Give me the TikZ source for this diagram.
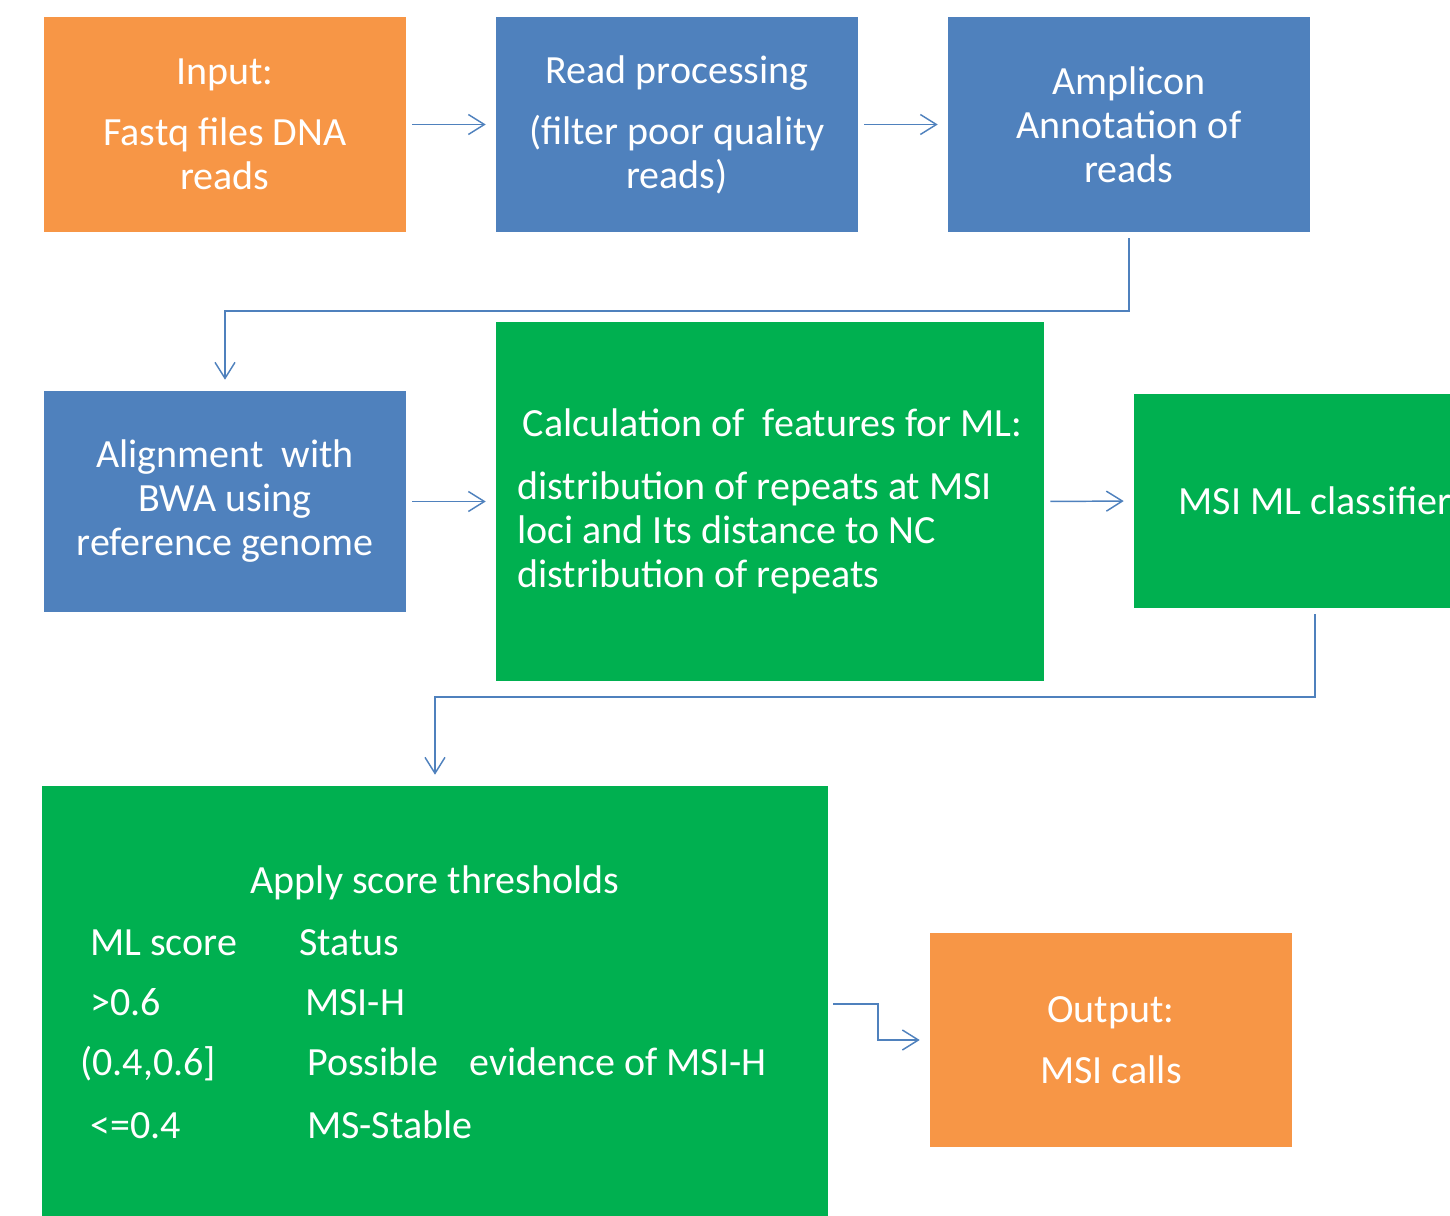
\documentclass[tikz,border=0pt]{standalone}
\usepackage{fontspec}
\setmainfont{Carlito}
\usetikzlibrary{arrows.meta}

\definecolor{boxorange}{RGB}{247,150,70}
\definecolor{boxblue}{RGB}{79,129,189}
\definecolor{boxgreen}{RGB}{0,176,80}
\definecolor{linkblue}{RGB}{79,129,189}

\tikzset{
  stepbox/.style={rectangle, inner sep=0pt, text=white, align=center,
    font=\fontsize{30}{33}\selectfont},
  iobox/.style={stepbox, fill=boxorange},
  procbox/.style={stepbox, fill=boxblue},
  mlbox/.style={stepbox, fill=boxgreen},
  rowtext/.style={inner sep=0pt, text=white, anchor=base west,
    font=\fontsize{30}{33}\selectfont},
  flow/.style={draw=linkblue, line width=1.1pt,
    -{Straight Barb[length=12pt,width=15pt,line width=1.1pt]}}
}

\begin{document}
\begin{tikzpicture}[x=0.75pt,y=0.75pt,yscale=-1,xscale=1]
\useasboundingbox (0,0) rectangle (1450,1216);
\clip (0,0) rectangle (1450,1216);

% top row
\node[iobox, minimum width=271.5pt, minimum height=161.25pt] (input) at (225,124.5)
  {Input:\\[12.75pt]Fastq files DNA\\reads};
\node[procbox, minimum width=271.5pt, minimum height=161.25pt] (readproc) at (677,124.5)
  {Read processing\\[12.75pt](filter poor quality\\reads)};
\node[procbox, minimum width=271.5pt, minimum height=161.25pt] (amplicon) at (1129,124.5)
  {Amplicon\\Annotation of\\reads};

% middle row
\node[procbox, minimum width=271.5pt, minimum height=165.75pt] (align) at (225,501.5)
  {Alignment\ \ with\\BWA using\\reference genome};
\node[mlbox, minimum width=411pt, minimum height=269.25pt, align=left] (features) at (770,501.5)
  {\hspace{4pt}Calculation of\hspace{13.5pt}features for ML:\\[14pt]distribution of repeats at MSI\\loci and Its distance to NC\\distribution of repeats};
\node[mlbox, minimum width=271.5pt, minimum height=160.5pt] (classifier) at (1315,501)
  {MSI ML classifier};

% bottom row
\node[mlbox, minimum width=589.5pt, minimum height=327pt] (thresholds) at (435,1004) {};
\node[iobox, minimum width=271.5pt, minimum height=160.5pt] (output) at (1111,1040)
  {Output:\\[12.75pt]MSI calls};

% threshold table
\node[rowtext, anchor=base] (ttitle) at (435,893) {Apply score thresholds};
\node[rowtext] (thead) at (90,955) {ML score};
\node[rowtext] (shead) at (299,955) {Status};
\node[rowtext] (thigh) at (90,1015) {>0.6};
\node[rowtext] (shigh) at (305,1015) {MSI-H};
\node[rowtext] (tmid) at (80,1075) {(0.4,0.6]};
\node[rowtext] (smid) at (307,1075) {Possible\hspace{23pt}evidence of MSI-H};
\node[rowtext] (tlow) at (90,1138) {<=0.4};
\node[rowtext] (slow) at (307,1138) {MS-Stable};

% bends
\coordinate (bendA) at (1129,311);
\coordinate (bendB) at (1315,697);
\coordinate (bendC) at (878,1004);

% connectors
\draw[flow, shorten <=4.5pt, shorten >=7.5pt] (input.east) -- (readproc.west);
\draw[flow, shorten <=4.5pt, shorten >=7.5pt] (readproc.east) -- (amplicon.west);
\draw[flow, shorten <=4.5pt, shorten >=8.25pt] (amplicon.south) -- (bendA) -| (align.north);
\draw[flow, shorten <=4.5pt, shorten >=7.5pt] (align.east) -- (features.west);
\draw[flow, shorten <=4.5pt, shorten >=7.5pt] (features.east) -- (classifier.west);
\draw[flow, shorten <=4.5pt, shorten >=8.25pt] (classifier.south) -- (bendB) -| (thresholds.north);
\draw[flow, shorten <=3.75pt, shorten >=7.5pt] (thresholds.east) -- (bendC) |- (output.west);

\end{tikzpicture}
\end{document}
